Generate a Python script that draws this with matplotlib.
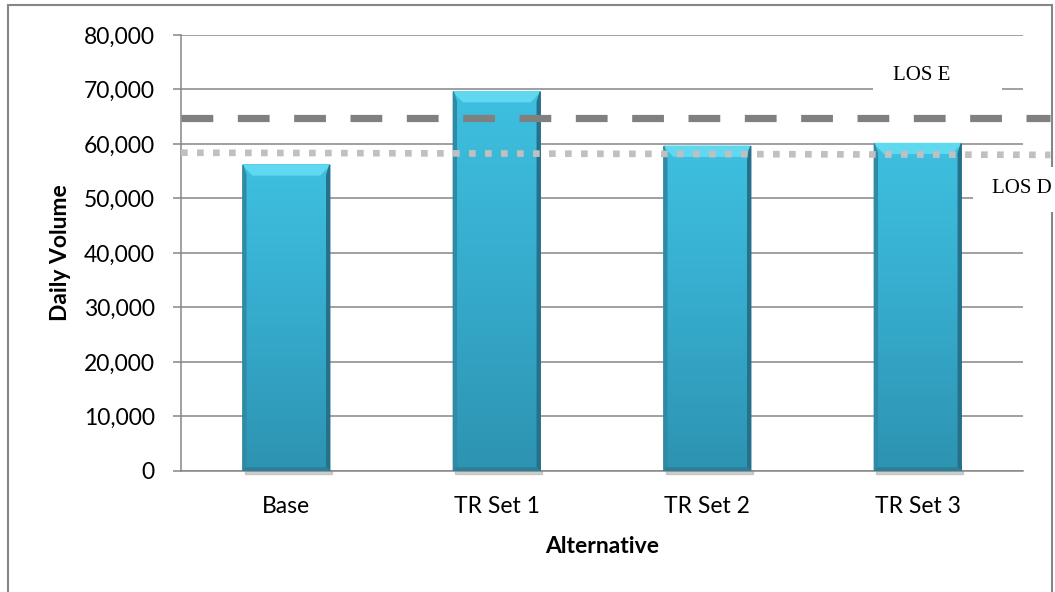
import matplotlib
matplotlib.use("Agg")
import matplotlib.pyplot as plt
import numpy as np
from matplotlib.patches import Rectangle, Polygon
from matplotlib.ticker import FuncFormatter, MultipleLocator

alternatives = ["Base", "TR Set 1", "TR Set 2", "TR Set 3"]
daily_volume = [56150, 69600, 59600, 60100]
los_e = [64800, 64800]
los_d = [58400, 58000]
line_x = [-0.5, 3.63]

plt.rcParams['font.family'] = ['Lato', 'DejaVu Sans']

fig = plt.figure(figsize=(10.55, 5.92), dpi=100)
ax = fig.add_axes([0.1716, 0.2044, 0.7981, 0.7365])

grey = "#868686"
ax.set_xlim(-0.5, 3.5)
ax.set_ylim(0, 80000)
ax.yaxis.set_major_locator(MultipleLocator(10000))
ax.yaxis.set_major_formatter(FuncFormatter(lambda v, p: f"{int(v):,}"))
ax.grid(axis="y", color=grey, linewidth=1.1, zorder=0)
ax.set_axisbelow(True)
for s in ["top", "right"]:
    ax.spines[s].set_visible(False)
for s in ["left", "bottom"]:
    ax.spines[s].set_color(grey)
    ax.spines[s].set_linewidth(1.1)
ax.tick_params(axis="y", direction="out", length=6, color=grey, width=1.1,
               labelsize=16.5, pad=13)
ax.tick_params(axis="x", length=0, labelsize=16.5, pad=18)
ax.set_xticks(range(len(alternatives)))
ax.set_xticklabels(alternatives)

ax.set_ylabel("Daily Volume", fontsize=16.5, fontweight="bold", labelpad=9)
ax.set_xlabel("Alternative", fontsize=16.5, fontweight="bold", labelpad=14)

# bars with a vertical gradient and a bevelled top edge
width = 0.413
px_x = 4.0 / 842
px_y = 80000 / 436
grad = np.linspace(0, 1, 256).reshape(-1, 1)
cmap = matplotlib.colors.LinearSegmentedColormap.from_list(
    "bar", ["#2d93b1", "#36abcc", "#3ec0e0"])
for i, v in enumerate(daily_volume):
    x0, x1 = i - width / 2, i + width / 2
    # drop shadow at the foot of the bar
    ax.add_patch(Rectangle((x0 + 2 * px_x, -3 * px_y), width, 3 * px_y,
                           color="#b0b0b0", alpha=0.6, zorder=2, clip_on=False))
    ax.imshow(grad, extent=(x0, x1, 0, v), origin="lower", cmap=cmap,
              aspect="auto", zorder=3)
    bx, by = 10 * px_x, 10 * px_y
    # bevel: top, sides and bottom faces
    ax.add_patch(Polygon([(x0, v), (x1, v), (x1 - bx, v - by), (x0 + bx, v - by)],
                         color="#5fd8f0", zorder=4))
    ax.add_patch(Polygon([(x1, v), (x1, 0), (x1 - 3 * px_x, 3 * px_y),
                          (x1 - 3 * px_x, v - by)], color="#26708a", zorder=4))
    ax.add_patch(Polygon([(x0, v), (x0, 0), (x0 + 3 * px_x, 3 * px_y),
                          (x0 + 3 * px_x, v - by)], color="#2f8aa6", zorder=4))
    ax.add_patch(Polygon([(x0, 0), (x1, 0), (x1 - 3 * px_x, 3 * px_y),
                          (x0 + 3 * px_x, 3 * px_y)], color="#2a7f99", zorder=4))

# level-of-service thresholds
ax.plot(line_x, los_e, color="#808080", linewidth=5.2, dashes=(4.4, 3.4),
        dash_capstyle="butt", zorder=5, clip_on=False)
ax.plot(line_x, los_d, color="#c0c0c0", linewidth=4.8, dashes=(1.0, 1.4),
        dash_capstyle="butt", zorder=5, clip_on=False)

# label boxes
ax.add_patch(Rectangle((2.787, 68070), 0.613, 6980, facecolor="white",
                       edgecolor="none", zorder=6, clip_on=False))
ax.text(3.02, 72600, "LOS E", family="Liberation Serif", fontsize=15,
        ha="center", va="center", zorder=7, clip_on=False)
ax.add_patch(Rectangle((3.262, 47520), 0.45, 8260, facecolor="white",
                       edgecolor="none", zorder=8, clip_on=False))
ax.text(3.495, 51900, "LOS D", family="Liberation Serif", fontsize=15,
        ha="center", va="center", zorder=9, clip_on=False)

# chart area border
border = Rectangle((8 / 1055, -0.05), 1044 / 1055, 1.05 - 5 / 592,
                   transform=fig.transFigure, fill=False, edgecolor=grey,
                   linewidth=1.5, zorder=-1)
fig.patches.append(border)

fig.savefig("out.png", dpi=100)
